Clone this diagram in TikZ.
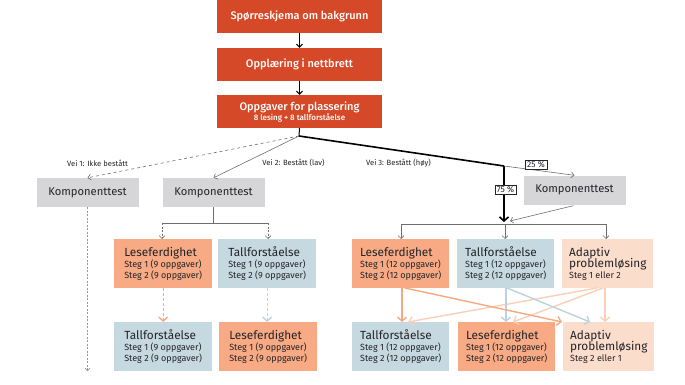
\documentclass[tikz,border=0pt]{standalone}
\usepackage{fontspec}
\setmainfont{Fira Sans}[BoldFont={Fira Sans Medium}]
\usetikzlibrary{arrows.meta}
\definecolor{redbox}{RGB}{213,73,40}
\definecolor{orangebox}{RGB}{247,170,132}
\definecolor{bluebox}{RGB}{198,217,225}
\definecolor{peachbox}{RGB}{251,221,204}
\definecolor{graybox}{RGB}{214,214,216}
\definecolor{txt}{RGB}{35,35,40}
\definecolor{lineg}{RGB}{110,110,110}
\definecolor{dashg}{RGB}{150,150,150}
\definecolor{orangeln}{RGB}{246,168,128}
\definecolor{blueln}{RGB}{188,210,221}
\definecolor{peachln}{RGB}{249,207,184}
\newcommand{\bxt}[3]{{\fontsize{11.8}{12.5}\selectfont #1}\\[-0.5pt]{\fontsize{9}{10.5}\selectfont #2}\\[-1pt]{\fontsize{9}{10.5}\selectfont #3}}
\tikzset{
  topbox/.style={fill=redbox, text=white, minimum width=165pt, minimum height=33pt, inner sep=0pt, align=center, font=\fontsize{11}{12}\selectfont\bfseries},
  compbox/.style={fill=graybox, text=txt, minimum width=102pt, minimum height=29pt, inner sep=0pt, font=\fontsize{11.2}{12}\selectfont},
  stepbox/.style={anchor=north west, minimum height=49pt, inner xsep=7pt, inner ysep=2pt, align=left, text=txt},
  barb/.style={-{Straight Barb[length=3pt,width=6pt]}},
  bigbarb/.style={-{Straight Barb[length=4pt,width=9pt,line width=1.6pt]}},
  pathlbl/.style={text=txt, font=\fontsize{7.6}{9}\selectfont},
  pct/.style={draw=txt, fill=white, line width=0.5pt, inner xsep=2pt, inner ysep=1.5pt, text=txt, font=\fontsize{8.5}{10}\selectfont},
  xarr/.style={line width=1.4pt, -{Straight Barb[length=4pt,width=9pt]}},
  dots/.style={dash pattern=on 2pt off 1.5pt},
  cdash/.style={dash pattern=on 3pt off 2pt}
}
\begin{document}
\begin{tikzpicture}[x=1pt,y=-1pt]
\useasboundingbox (0,0) rectangle (685,385);
% top boxes
\node[topbox] (t1) at (299.5,16.5) {Spørreskjema om bakgrunn};
\node[topbox] (t2) at (299.5,64.5) {Opplæring i nettbrett};
\node[topbox] (t3) at (299.5,111.5) {Oppgaver for plassering\\[-2pt]{\fontsize{8}{9}\selectfont 8 lesing + 8 tallforståelse}};
\draw[black, line width=1pt, barb] (t1) -- (t2);
\draw[black, line width=1pt, barb] (t2) -- (t3);
% branching
\coordinate (br) at (299,136);
\coordinate (j) at (504,166);
\coordinate (m) at (504,222);
\draw[black, line width=1pt] (t3.south) -- (br);
% komponenttest nodes
\node[compbox] (k1) at (87.5,192.5) {Komponenttest};
\node[compbox] (k2) at (213.5,192.5) {Komponenttest};
\node[compbox] (k3) at (574.5,190) {Komponenttest};
\draw[lineg, dashed, line width=0.6pt, barb] (br) -- (k1.north);
\draw[lineg, line width=0.6pt, barb] (br) -- (k2.north);
\draw[black, line width=1.6pt] (br) -- (j);
\draw[black, line width=1.6pt, bigbarb] (j) -- (m);
\draw[lineg, line width=0.6pt, barb] (j) -- (k3.north);
\node[pct] (p25) at (536,165) {25 \%};
\node[pct] (p75) at (505.5,190) {75 \%};
\coordinate (k3e) at (510,221);
\draw[lineg, line width=0.6pt, barb] (k3.south west) ++(50,1) coordinate (k3s) -- (k3e);
% labels
\node[pathlbl] (v1) at (97.5,163) {Vei 1: Ikke bestått};
\node[pathlbl] (v2) at (293.5,163) {Vei 2: Bestått (lav)};
\node[pathlbl] (v3) at (398.5,163) {Vei 3: Bestått (høy)};
% step boxes path 2
\node[stepbox, fill=orangebox, minimum width=98pt] (a1) at (114,239) {\bxt{Leseferdighet}{Steg 1 (9 oppgaver)}{Steg 2 (9 oppgaver)}};
\node[stepbox, fill=bluebox, minimum width=98pt] (a2) at (218,239) {\bxt{Tallforståelse}{Steg 1 (9 oppgaver)}{Steg 2 (9 oppgaver)}};
\node[stepbox, fill=bluebox, minimum width=98pt] (a3) at (114,322) {\bxt{Tallforståelse}{Steg 1 (9 oppgaver)}{Steg 2 (9 oppgaver)}};
\node[stepbox, fill=orangebox, minimum width=98pt] (a4) at (219,322) {\bxt{Leseferdighet}{Steg 1 (9 oppgaver)}{Steg 2 (9 oppgaver)}};
% path 2 connectors
\coordinate (k2d) at (213.5,223);
\coordinate (k2l) at (162,223);
\coordinate (k2r) at (268,223);
\draw[lineg, line width=0.6pt] (k2.south) -- (k2d);
\draw[lineg, line width=0.6pt] (k2l) -- (k2r);
\draw[lineg, dots, line width=0.6pt, barb] (k2l) -- (k2l |- a1.north);
\draw[lineg, dots, line width=0.6pt, barb] (k2r) -- (k2r |- a2.north);
\draw[orangeln, cdash, line width=1.4pt, -{Straight Barb[length=4pt,width=9pt]}] (a1.south) -- (a3.north -| a1.south);
\draw[blueln, cdash, line width=1.4pt, -{Straight Barb[length=4pt,width=9pt]}] (a2.south) -- (a4.north -| a2.south);
% path 1
\coordinate (k1e) at (87.5,371);
\draw[dashg, dots, line width=1pt, -{Straight Barb[length=2.5pt,width=5pt,line width=0.7pt]}] (k1.south) -- (k1e);
% step boxes path 3
\node[stepbox, fill=orangebox, minimum width=97pt] (b1) at (352,239) {\bxt{Leseferdighet}{Steg 1 (12 oppgaver)}{Steg 2 (12 oppgaver)}};
\node[stepbox, fill=bluebox, minimum width=97pt] (b2) at (457,239) {\bxt{Tallforståelse}{Steg 1 (12 oppgaver)}{Steg 2 (12 oppgaver)}};
\node[stepbox, fill=peachbox, minimum width=87pt] (b3) at (562,239) {{\fontsize{11.8}{12.5}\selectfont Adaptiv}\\[-1.5pt]{\fontsize{11.8}{12.5}\selectfont problemløsing}\\[-1pt]{\fontsize{9}{10.5}\selectfont Steg 1 eller 2}};
\node[stepbox, fill=bluebox, minimum width=97pt] (c1) at (352,322) {\bxt{Tallforståelse}{Steg 1 (12 oppgaver)}{Steg 2 (12 oppgaver)}};
\node[stepbox, fill=orangebox, minimum width=97pt] (c2) at (458,322) {\bxt{Leseferdighet}{Steg 1 (12 oppgaver)}{Steg 2 (12 oppgaver)}};
\node[stepbox, fill=peachbox, minimum width=86pt] (c3) at (563,322) {{\fontsize{11.8}{12.5}\selectfont Adaptiv}\\[-1.5pt]{\fontsize{11.8}{12.5}\selectfont problemløsing}\\[-1pt]{\fontsize{9}{10.5}\selectfont Steg 2 eller 1}};
% distribution
\coordinate (dl) at (401,224);
\coordinate (dm) at (505,224);
\coordinate (dr) at (606,224);
\draw[lineg, line width=0.6pt] (dl) -- (dr);
\draw[lineg, line width=0.6pt, barb] (dl) -- (dl |- b1.north);
\draw[lineg, line width=0.6pt, barb] (dm) -- (dm |- b2.north);
\draw[lineg, line width=0.6pt, barb] (dr) -- (dr |- b3.north);
% cross arrows
\coordinate (b3a) at (597,288);
\coordinate (b3b) at (603,288);
\coordinate (b3c) at (605,288);
\coordinate (c1a) at (408,322);
\coordinate (c2a) at (513,322);
\coordinate (c3a) at (605,322);
\coordinate (b2a) at (506,288);
\coordinate (b2b) at (507,288);
\coordinate (c2b) at (506,322);
\coordinate (c3b) at (590,322);
\coordinate (b1a) at (402,288);
\coordinate (b1b) at (405,288);
\coordinate (c1b) at (402,322);
\coordinate (c3c) at (562,322);
\draw[peachln, xarr] (b3a) -- (c1a);
\draw[peachln, xarr] (b3b) -- (c2a);
\draw[peachln, xarr] (b3c) -- (c3a);
\draw[blueln, xarr] (b2a) -- (c2b);
\draw[blueln, xarr] (b2b) -- (c3b);
\draw[orangeln, xarr] (b1a) -- (c1b);
\draw[orangeln, xarr] (b1b) -- (c3c);
\end{tikzpicture}
\end{document}
